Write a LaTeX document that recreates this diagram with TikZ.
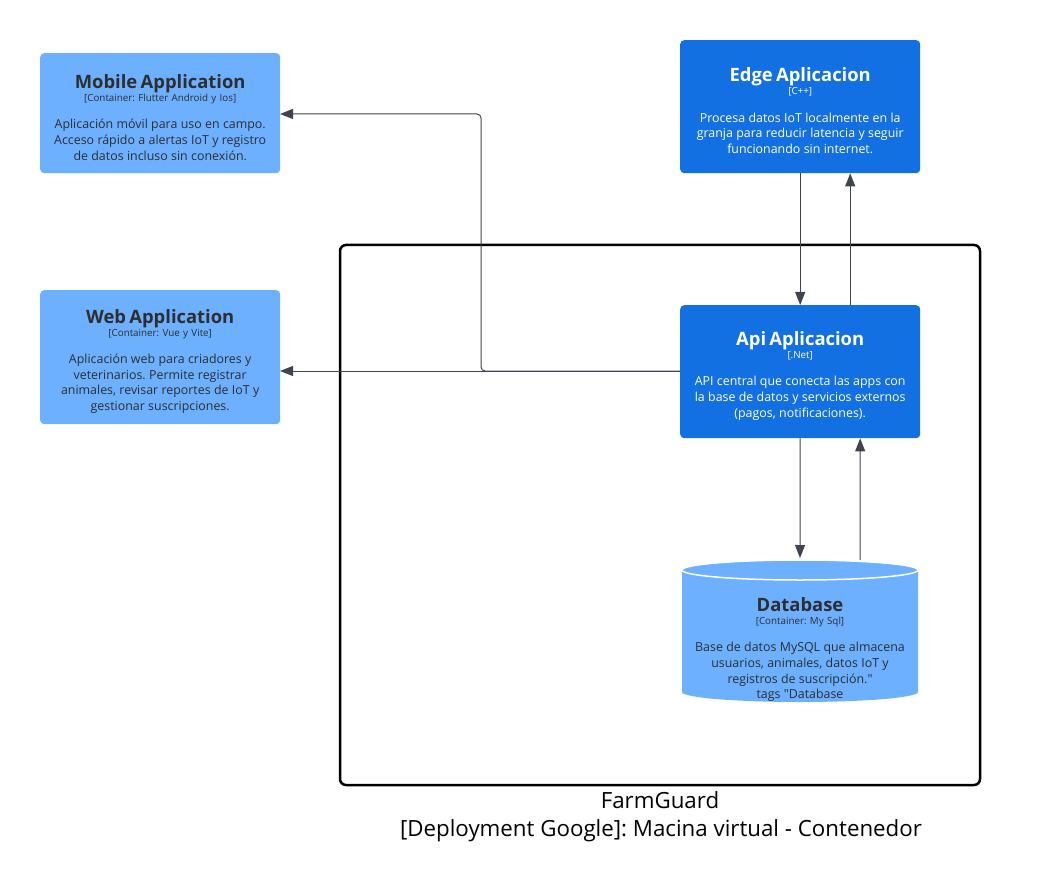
\documentclass[tikz,border=0pt]{standalone}
\usepackage{fontspec}
\setmainfont{Open Sans}[Ligatures=TeXOff]
\usetikzlibrary{arrows.meta}
\definecolor{lightbox}{HTML}{6CB0FF}
\definecolor{darkbox}{HTML}{1270E3}
\definecolor{inktext}{HTML}{2E2E2E}
\definecolor{conn}{HTML}{3F444E}
\frenchspacing
\newcommand\boxtitle[1]{{\fontsize{18.4}{22}\selectfont\bfseries\rule{0pt}{22pt}#1\par}\vspace{1pt}}
\newcommand\boxsub[1]{{\fontsize{9.8}{12}\selectfont #1\par}\vspace{12pt}}
\newcommand\boxbody[1]{{\fontsize{12.4}{15.6}\selectfont #1\par}}
\begin{document}
\begin{tikzpicture}[x=1pt,y=-1pt,
  cbox/.style={rounded corners=4pt, minimum width=240pt, inner sep=0pt, text width=238pt, align=center, anchor=north west},
  lightc/.style={cbox, fill=lightbox, text=inktext},
  darkc/.style={cbox, fill=darkbox, text=white},
  conline/.style={draw=conn, line width=1pt, -{Triangle[length=13pt,width=10pt]}},
  frame/.style={draw=black, line width=2.5pt, rounded corners=6pt},
  lbl/.style={font=\fontsize{22.3}{26}\selectfont, text=black, inner sep=0pt}]
\useasboundingbox (0,0) rectangle (1060,885);

\node[lightc, minimum height=120pt] (mobile) at (40,53)
  {\boxtitle{Mobile Application}\boxsub{[Container: Flutter Android y Ios]}\boxbody{Aplicación móvil para uso en campo.\\Acceso rápido a alertas IoT y registro\\de datos incluso sin conexión.}};

\node[lightc, minimum height=134pt] (web) at (40,290)
  {\boxtitle{Web Application}\boxsub{[Container: Vue y Vite]}\boxbody{Aplicación web para criadores y\\veterinarios. Permite registrar\\animales, revisar reportes de IoT y\\gestionar suscripciones.}};

\node[darkc, minimum height=133pt] (edge) at (680,40)
  {\boxtitle{Edge Aplicacion}\boxsub{[C++]}\boxbody{Procesa datos IoT localmente en la\\granja para reducir latencia y seguir\\funcionando sin internet.}};

\node[darkc, minimum height=133pt] (api) at (680,305)
  {\boxtitle{Api Aplicacion}\boxsub{[.Net]}\boxbody{API central que conecta las apps con\\la base de datos y servicios externos\\(pagos, notificaciones).}};

% frame
\draw[frame] (340,245) rectangle (980,785);
\node[lbl] (fg) at (660,800) {FarmGuard};
\node[lbl] (dep) at (661,831) {[Deployment Google]: Macina virtual - Contenedor};

% database cylinder
\fill[lightbox] (682,570) -- (682,692) arc[start angle=180,end angle=360,x radius=118pt,y radius=10pt] -- (918,570) -- cycle;
\draw[white, line width=1.5pt, fill=lightbox] (800,570) ellipse[x radius=118pt, y radius=10pt];
\node[inner sep=0pt, minimum width=236pt, minimum height=142pt, anchor=north west] (db) at (682,560) {};
\node[cbox, text=inktext, anchor=north, minimum width=236pt] (dbtext) at (800,589)
  {\boxtitle{Database}\boxsub{[Container: My Sql]}\boxbody{Base de datos MySQL que almacena\\usuarios, animales, datos IoT y\\registros de suscripción."\\tags "Database}};

% connectors
\coordinate (e1) at (edge.south);
\coordinate (a1) at (api.north);
\coordinate (e2) at ([xshift=50pt]edge.south);
\coordinate (a2) at ([xshift=50pt]api.north);
\draw[conline] (e1) -- (a1);
\draw[conline] (a2) -- (e2);

\coordinate (aw) at (680,371);
\coordinate (webin) at (280,371);
\coordinate (mobin) at (280,114);
\draw[conline] (aw) -- (webin);
\draw[conline, rounded corners=4pt] (aw) -- (481,371) -- (481,114) -- (mobin);

\coordinate (a3) at (api.south);
\coordinate (d3) at (800,558);
\coordinate (a4) at ([xshift=60pt]api.south);
\coordinate (d4) at (860,560);
\draw[conline] (a3) -- (d3);
\draw[conline] (d4) -- (a4);
\end{tikzpicture}
\end{document}
